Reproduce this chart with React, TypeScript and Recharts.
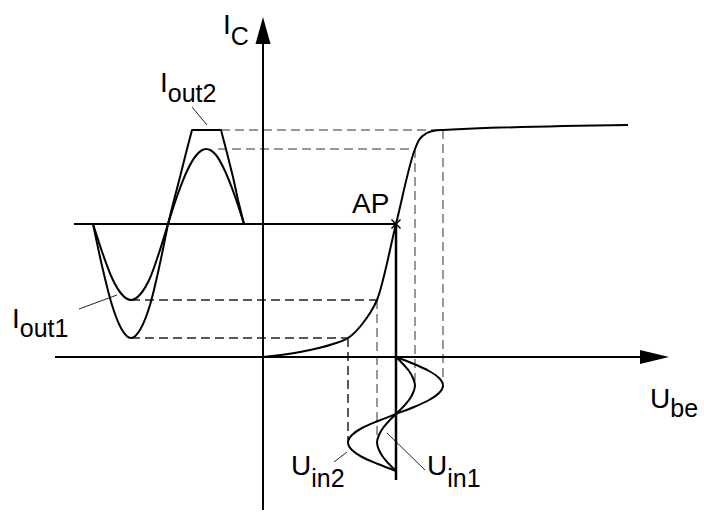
import { ComposedChart, Line, ReferenceDot, ReferenceLine, XAxis, YAxis } from 'recharts'

type Pt = [number, number]

// transfer characteristic I_C over U_be (arbitrary units, origin at the axis crossing)
const characteristic: Pt[] = [
  [0, 0], [37, 5], [70, 13], [85, 19], [89, 22], [100, 34], [107, 44], [114, 57],
  [133, 133], [152, 208], [156, 217], [164, 224], [172, 226.5], [180, 227], [365, 232],
]

const apPoint: Pt = [133, 133]
const apLineLeft = -189
const apLineBottom = -123

// output currents, drawn around the AP level
const iOut1: Pt[] = [
  [-170, 133], [-160.5, 104], [-151, 79], [-141.5, 63], [-132, 57], [-122.5, 63], [-113, 79], [-104, 104],
  [-95, 133], [-85.5, 162], [-76, 186], [-66.5, 202], [-57, 208], [-47, 202], [-38, 186], [-28.5, 162], [-19, 133],
]
const iOut2Low: Pt[] = [
  [-170, 133], [-160.5, 89], [-151, 52], [-141.5, 28], [-132, 19], [-122.5, 28], [-113, 52], [-104, 89], [-95, 133],
]
const iOut2High: Pt[] = [
  [-95, 133], [-89, 157], [-83, 180], [-77, 204], [-71, 227], [-42, 227], [-36, 204], [-30, 180], [-25, 157], [-19, 133],
]

// input voltages, drawn downward below the U_be axis
const uIn1: Pt[] = [
  [133, 0], [140, -7], [146, -14], [150, -21], [152, -28.5], [150, -36], [146, -43], [140, -50], [133, -57],
  [126, -64], [120, -71], [116, -78], [114, -85.5], [116, -93], [120, -100], [126, -107], [133, -114],
]
const uIn2: Pt[] = [
  [133, 0], [151, -7], [166, -14], [176, -21], [180, -28.5], [176, -36], [166, -43], [151, -50], [133, -57],
  [115, -64], [99, -71], [89, -78], [85, -85.5], [89, -93], [99, -100], [115, -107], [133, -114],
]

const dashedGray: [Pt, Pt][] = [
  [[-42, 227], [180, 227]],
  [[-45, 208], [152, 208]],
  [[114, 57], [114, -83]],
  [[152, 208], [152, -24]],
  [[180, 227], [180, -26]],
]
const dashedDark: [Pt, Pt][] = [
  [[-132, 57], [114, 57]],
  [[-132, 19], [85, 19]],
  [[85, 19], [85, -86]],
]

const leaders: [Pt, Pt][] = [
  [[-71, 250], [-56, 232]],
  [[-184, 48], [-146, 62]],
  [[71, -105], [84, -95]],
  [[124, -76], [162, -113]],
]

const icAxis = { bottom: -153, top: 340 }
const ubeAxis = { left: -208, right: 406 }

const labels = [
  { x: -40, y: 323, main: 'I', sub: 'C', dy: 11 },
  { x: -103, y: 265, main: 'I', sub: 'out2', dy: 10 },
  { x: -251, y: 29, main: 'I', sub: 'out1', dy: 9 },
  { x: 89, y: 144, main: 'AP', sub: '', dy: 0 },
  { x: 28, y: -118, main: 'U', sub: 'in2', dy: 12 },
  { x: 164, y: -118, main: 'U', sub: 'in1', dy: 12 },
  { x: 387, y: -51, main: 'U', sub: 'be', dy: 9 },
]

const toData = (pts: Pt[]) => pts.map(([x, y]) => ({ x, y }))
const FONT = '"Liberation Sans", Arial, Helvetica, sans-serif'

function ArrowUp(props: any) {
  const { cx, cy } = props
  return <path d={`M${cx},${cy} L${cx - 7.5},${cy + 27} L${cx + 7.5},${cy + 27} Z`} fill="#000" />
}

function ArrowRight(props: any) {
  const { cx, cy } = props
  return <path d={`M${cx},${cy} L${cx - 29},${cy - 7} L${cx - 29},${cy + 7} Z`} fill="#000" />
}

function Cross(props: any) {
  const { cx, cy } = props
  const s = 4.5
  return (
    <path
      d={`M${cx - s},${cy - s} L${cx + s},${cy + s} M${cx - s},${cy + s} L${cx + s},${cy - s}`}
      stroke="#000"
      strokeWidth={1.5}
    />
  )
}

const labelShape = (main: string, sub: string, dy: number) =>
  function Label(props: any) {
    return (
      <text x={props.cx} y={props.cy} fontFamily={FONT} fontSize={28} fill="#000">
        <tspan>{main}</tspan>
        {sub && (
          <tspan dy={dy} fontSize={25}>
            {sub}
          </tspan>
        )}
      </text>
    )
  }

export default function App() {
  const curve = {
    stroke: '#000',
    strokeWidth: 2,
    dot: false,
    activeDot: false,
    isAnimationActive: false,
  } as const
  return (
    <div style={{ width: 704, height: 514 }}>
      <style>{'body{margin:0}'}</style>
      <ComposedChart width={704} height={514} margin={{ top: 0, right: 0, bottom: 0, left: 0 }}>
        <XAxis type="number" dataKey="x" domain={[-263, 441]} allowDataOverflow hide />
        <YAxis type="number" dataKey="y" domain={[-157, 357]} allowDataOverflow hide />

        {dashedGray.map((seg, i) => (
          <ReferenceLine
            key={`g${i}`}
            segment={seg.map(([x, y]) => ({ x, y }))}
            stroke="#777"
            strokeWidth={1.5}
            strokeDasharray="9 5"
          />
        ))}
        {dashedDark.map((seg, i) => (
          <ReferenceLine
            key={`d${i}`}
            segment={seg.map(([x, y]) => ({ x, y }))}
            stroke="#222"
            strokeWidth={1.5}
            strokeDasharray="9 5"
          />
        ))}
        {leaders.map((seg, i) => (
          <ReferenceLine key={`l${i}`} segment={seg.map(([x, y]) => ({ x, y }))} stroke="#222" strokeWidth={1} />
        ))}

        {/* axes */}
        <ReferenceLine segment={[{ x: 0, y: icAxis.bottom }, { x: 0, y: icAxis.top - 20 }]} stroke="#000" strokeWidth={2} />
        <ReferenceLine
          segment={[{ x: ubeAxis.left, y: 0 }, { x: ubeAxis.right - 20, y: 0 }]}
          stroke="#000"
          strokeWidth={2}
        />
        <ReferenceDot x={0} y={icAxis.top} r={0} shape={ArrowUp} />
        <ReferenceDot x={ubeAxis.right} y={0} r={0} shape={ArrowRight} />

        {/* operating point lines */}
        <ReferenceLine
          segment={[{ x: apLineLeft, y: apPoint[1] }, { x: apPoint[0], y: apPoint[1] }]}
          stroke="#000"
          strokeWidth={2}
        />
        <ReferenceLine
          segment={[{ x: apPoint[0], y: apPoint[1] }, { x: apPoint[0], y: apLineBottom }]}
          stroke="#000"
          strokeWidth={2.5}
        />

        <Line data={toData(characteristic)} dataKey="y" type="monotone" {...curve} />
        <Line data={toData(iOut1)} dataKey="y" type="monotone" {...curve} />
        <Line data={toData(iOut2Low)} dataKey="y" type="monotone" {...curve} />
        <Line data={toData(iOut2High)} dataKey="y" type="linear" {...curve} strokeLinejoin="round" />
        <Line data={toData(uIn1)} dataKey="y" type="monotoneY" {...curve} />
        <Line data={toData(uIn2)} dataKey="y" type="monotoneY" {...curve} />

        <ReferenceDot x={apPoint[0]} y={apPoint[1]} r={0} shape={Cross} />

        {labels.map((l) => (
          <ReferenceDot key={l.main + l.sub} x={l.x} y={l.y} r={0} shape={labelShape(l.main, l.sub, l.dy)} />
        ))}
      </ComposedChart>
    </div>
  )
}
